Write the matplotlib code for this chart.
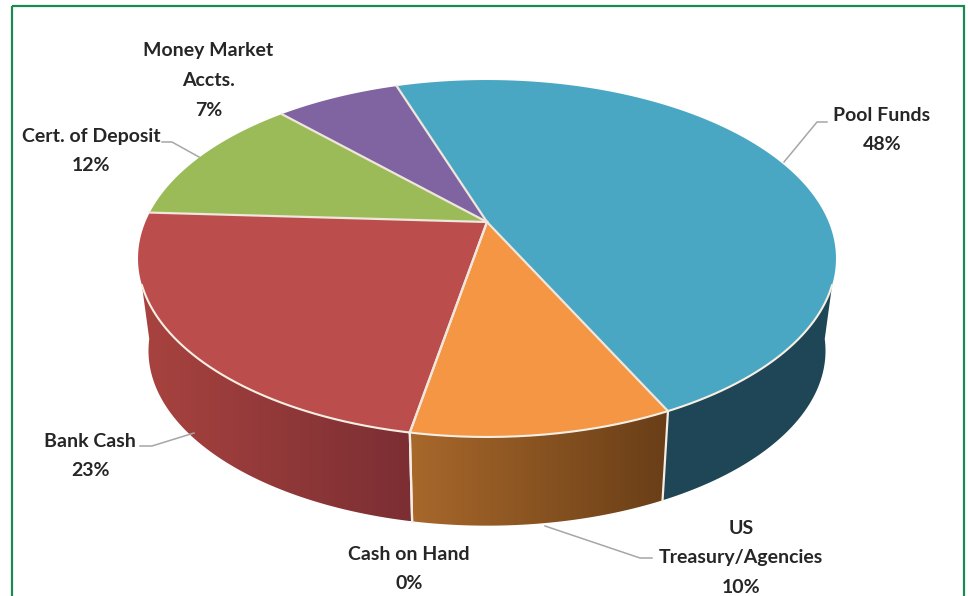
import numpy as np
import matplotlib
matplotlib.use("Agg")
import matplotlib.pyplot as plt
from matplotlib.colors import LinearSegmentedColormap
from matplotlib.patches import Polygon, Rectangle

# Portfolio shares, clockwise from the top-left edge of the largest slice
categories = ["Pool Funds", "US\nTreasury/Agencies", "Cash on Hand",
              "Bank Cash", "Cert. of Deposit", "Money Market\nAccts."]
shares = [48, 10, 0, 23, 12, 7]
top_colors = ["#4AA7C3", "#F49644", "#BB4E4D", "#BB4E4D", "#9BBB59", "#8064A2"]
wall_screen_left = ["#1F4656", "#A8682B", "#A8433F", "#A8433F", "#7A9440", "#5F4A7C"]
wall_screen_right = ["#1F4656", "#693E17", "#7B2E33", "#7B2E33", "#7A9440", "#5F4A7C"]

# Label centres and leader polylines, in figure pixels
label_xy = [(882, 130), (741, 558), (409, 569), (90, 456), (91, 151), (208.5, 80.5)]
leaders = [[(827, 122), (817, 122), (784, 162)],
           [(545, 526), (640, 558), (652, 558)],
           None,
           [(140, 446), (152, 446), (194, 433)],
           [(162, 142), (172, 142), (199, 157)],
           None]

START_DEG = -18.4
CENTER = (487.0, 222.0)
RX, RY, PERSP = 341.6, 171.0, 0.2045
DEPTH, BASE_SCALE_X, BASE_SCALE_Y = 93.0, 0.97, 0.98
FRONT_FROM, FRONT_TO = 110.0, 250.0
BASE_OVERHANG = 12.0


def rim(theta_deg, base=False):
    """Project a point on the disc rim (clockwise degrees from the back) to the page."""
    t = np.radians(np.asarray(theta_deg, dtype=float))
    u, v = np.sin(t), -np.cos(t)
    w = 1 - PERSP * v
    x, y = RX * u / w, RY * v / w
    if base:
        return CENTER[0] + BASE_SCALE_X * x, CENTER[1] + BASE_SCALE_Y * y + DEPTH
    return CENTER[0] + x, CENTER[1] + y


plt.rcParams["font.family"] = ["Lato", "DejaVu Sans"]
fig = plt.figure(figsize=(9.68, 5.96), dpi=100, facecolor="white")
ax = fig.add_axes([0, 0, 1, 1])
ax.axis("off")

# Outer frame runs past the bottom edge of the figure
ax.add_patch(Rectangle((12, 6), 952, 640, fill=False, ec="#1B8A50", lw=1.6))

edges = START_DEG + np.concatenate([[0], np.cumsum(shares)]) * 3.6

# Side wall: a horizontal gradient clipped to each slice's visible band
for a0, a1, cl, cr in zip(edges[:-1], edges[1:], wall_screen_left, wall_screen_right):
    lo, hi = max(a0, FRONT_FROM), min(a1, FRONT_TO)
    if hi <= lo:
        continue
    xt, yt = rim(np.linspace(lo, hi, 200))
    # At the two ends of the wall the base curve wraps a little further round
    base_lo = lo - BASE_OVERHANG if lo == FRONT_FROM else lo
    base_hi = hi + BASE_OVERHANG if hi == FRONT_TO else hi
    xb, yb = rim(np.linspace(base_lo, base_hi, 200), base=True)
    band = Polygon(np.c_[np.r_[xt, xb[::-1]], np.r_[yt, yb[::-1]]], closed=True,
                   fc="none", ec="none", transform=ax.transData)
    ax.add_patch(band)
    xs = np.r_[xt, xb]
    ys = np.r_[yt, yb]
    cmap = LinearSegmentedColormap.from_list("wall", [cl, cr])
    img = ax.imshow(np.linspace(0, 1, 256)[None, :], cmap=cmap, aspect="auto",
                    extent=[xs.min(), xs.max(), ys.max(), ys.min()], zorder=2)
    img.set_clip_path(band)

# Top face
for a0, a1, color in zip(edges[:-1], edges[1:], top_colors):
    if a1 <= a0:
        continue
    th = np.linspace(a0, a1, 200)
    x, y = rim(th)
    ax.fill(np.r_[CENTER[0], x], np.r_[CENTER[1], y], color=color, lw=0, zorder=3)

# Pale rim along the front of the disc, and slice separators
front = np.linspace(FRONT_FROM, FRONT_TO, 300)
ax.plot(*rim(front), color="#F8EFE4", lw=1.5, zorder=4, solid_capstyle="round")
for a in edges[:-1]:
    x, y = rim(a)
    ax.plot([CENTER[0], x], [CENTER[1], y], color="#EFE6DC", lw=1.6, zorder=4)
    if FRONT_FROM < a < FRONT_TO:
        xb, yb = rim(a, base=True)
        ax.plot([x, xb], [y, yb], color="#F6EEE4", lw=1.6, zorder=4)

# Data labels with leader lines
for name, share, (lx, ly), path in zip(categories, shares, label_xy, leaders):
    ax.text(lx, ly, f"{name}\n{share}%", ha="center", va="center", ma="center",
            fontsize=14, fontweight="bold", color="#262626", linespacing=1.92, zorder=6)
    if path:
        px, py = zip(*path)
        ax.plot(px, py, color="#A6A6A6", lw=1.1, zorder=5)

ax.set_xlim(0, 968)
ax.set_ylim(596, 0)
fig.savefig("out.png", dpi=100)
